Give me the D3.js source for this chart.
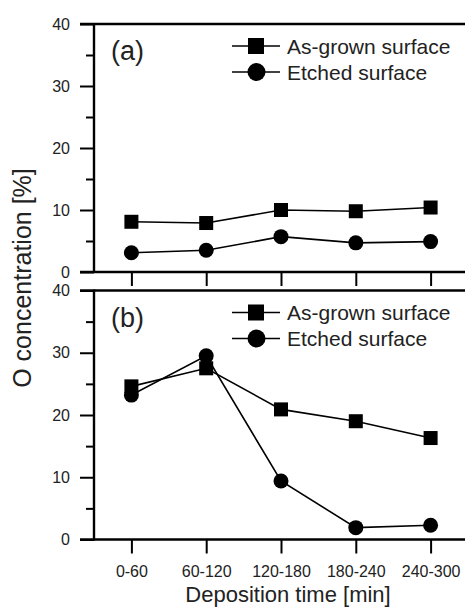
<!DOCTYPE html>
<html>
<head>
<meta charset="utf-8">
<script src="https://cdn.jsdelivr.net/npm/d3@7/dist/d3.min.js"></script>
<style>
  html, body { margin: 0; padding: 0; background: #fff; }
  svg { display: block; }
  text { font-family: "Liberation Sans", Arial, Helvetica, sans-serif; fill: #222; }
</style>
</head>
<body>
<svg id="chart" width="465" height="610"></svg>
<script>
const categories = ["0-60", "60-120", "120-180", "180-240", "240-300"];
const asGrownA = [8.1, 7.9, 10.0, 9.8, 10.4];
const etchedA  = [3.1, 3.5, 5.7, 4.7, 4.9];
const asGrownB = [24.6, 27.5, 20.9, 19.0, 16.3];
const etchedB  = [23.2, 29.5, 9.4, 1.9, 2.3];
const yMajorTicks = [0, 10, 20, 30, 40];
const yMinorTicks = [5, 15, 25, 35];
const seriesNames = ["As-grown surface", "Etched surface"];
const panelLabels = ["(a)", "(b)"];

const svg = d3.select("#chart");
const left = 94, right = 468;

const x = d3.scaleLinear().domain([0.5, categories.length + 0.5]).range([left, right]);

const panels = [
  { top: 24, bottom: 272, series: [asGrownA, etchedA], label: panelLabels[0], showXLabels: false },
  { top: 290.5, bottom: 539.5, series: [asGrownB, etchedB], label: panelLabels[1], showXLabels: true }
];

panels.forEach(p => {
  const y = d3.scaleLinear().domain([0, 40]).range([p.bottom, p.top]);
  const g = svg.append("g");

  // minor ticks
  g.append("g")
    .attr("transform", `translate(${left},0)`)
    .call(d3.axisLeft(y).tickValues(yMinorTicks).tickSize(8).tickSizeOuter(0).tickFormat(""))
    .call(s => s.select(".domain").remove())
    .call(s => s.selectAll("line").attr("stroke", "#000").attr("stroke-width", 2));

  // major ticks
  g.append("g")
    .attr("transform", `translate(${left},0)`)
    .call(d3.axisLeft(y).tickValues(yMajorTicks).tickSize(14).tickSizeOuter(0).tickPadding(10))
    .call(s => s.select(".domain").remove())
    .call(s => s.selectAll("line").attr("stroke", "#000").attr("stroke-width", 2))
    .call(s => s.selectAll("text").style("font-size", "16px").attr("fill", "#222")
      .style("font-family", "'Liberation Sans', Arial, sans-serif"));

  // x ticks
  g.append("g")
    .attr("transform", `translate(0,${p.bottom})`)
    .call(d3.axisBottom(x).tickValues(d3.range(1, categories.length + 1))
      .tickSize(14).tickSizeOuter(0).tickPadding(12)
      .tickFormat(d => p.showXLabels ? categories[d - 1] : ""))
    .call(s => s.select(".domain").remove())
    .call(s => s.selectAll("line").attr("stroke", "#000").attr("stroke-width", 2))
    .call(s => s.selectAll("text").style("font-size", "16px").attr("fill", "#222")
      .style("font-family", "'Liberation Sans', Arial, sans-serif"));

  // frame: left, top, bottom
  g.append("line").attr("x1", left).attr("x2", left).attr("y1", p.top - 1).attr("y2", p.bottom + 1)
    .attr("stroke", "#000").attr("stroke-width", 2.4);
  g.append("line").attr("x1", left - 14).attr("x2", 470).attr("y1", p.top).attr("y2", p.top)
    .attr("stroke", "#000").attr("stroke-width", 2.4);
  g.append("line").attr("x1", left - 14).attr("x2", 470).attr("y1", p.bottom).attr("y2", p.bottom)
    .attr("stroke", "#000").attr("stroke-width", 2.4);

  // lines
  const line = d3.line().x((d, i) => x(i + 1)).y(d => y(d));
  p.series.forEach(s => {
    g.append("path").datum(s).attr("d", line)
      .attr("fill", "none").attr("stroke", "#000").attr("stroke-width", 1.6);
  });

  // markers: etched circles then as-grown squares
  g.selectAll(".circ").data(p.series[1]).enter().append("circle")
    .attr("cx", (d, i) => x(i + 1)).attr("cy", d => y(d)).attr("r", 7.5).attr("fill", "#000");
  g.selectAll(".sq").data(p.series[0]).enter().append("rect")
    .attr("x", (d, i) => x(i + 1) - 7).attr("y", d => y(d) - 7)
    .attr("width", 14).attr("height", 14).attr("fill", "#000");

  // panel label
  g.append("text").attr("x", 111).attr("y", p.top + 36).style("font-size", "27px").text(p.label);

  // legend
  const legY = [p.top + 22, p.top + 48];
  seriesNames.forEach((name, i) => {
    g.append("line").attr("x1", 232).attr("x2", 280).attr("y1", legY[i]).attr("y2", legY[i])
      .attr("stroke", "#000").attr("stroke-width", 1.6);
    if (i === 0) {
      g.append("rect").attr("x", 256 - 8).attr("y", legY[i] - 8).attr("width", 16).attr("height", 16).attr("fill", "#000");
    } else {
      g.append("circle").attr("cx", 256.5).attr("cy", legY[i]).attr("r", 9).attr("fill", "#000");
    }
    g.append("text").attr("x", 287).attr("y", legY[i] + 7.5).style("font-size", "21px").text(name);
  });
});

// axis titles
svg.append("text")
  .attr("transform", "translate(31,278) rotate(-90)")
  .attr("text-anchor", "middle")
  .style("font-size", "25px")
  .text("O concentration [%]");

svg.append("text")
  .attr("x", 288).attr("y", 602)
  .attr("text-anchor", "middle")
  .style("font-size", "22px")
  .text("Deposition time [min]");
</script>
</body>
</html>
